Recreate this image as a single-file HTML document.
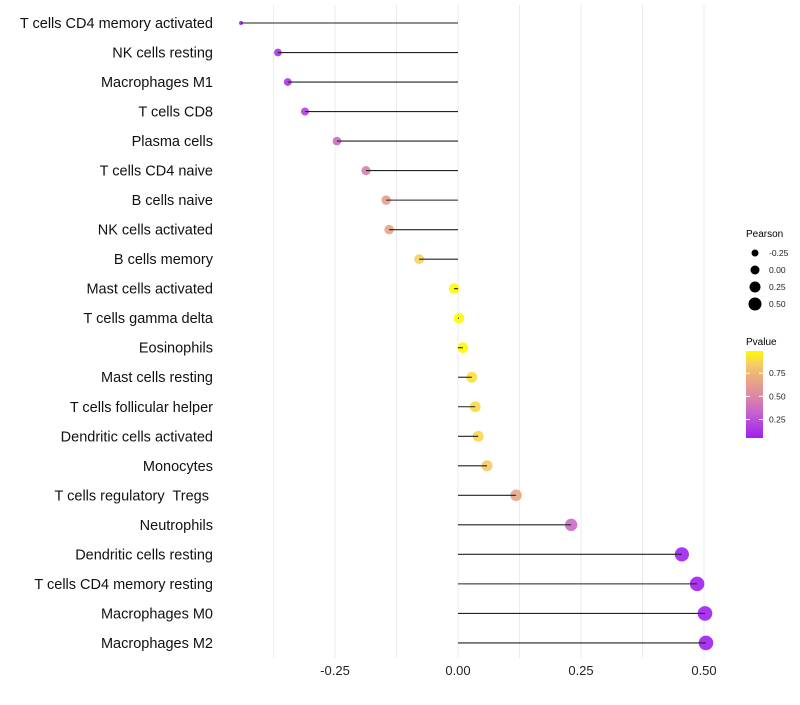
<!DOCTYPE html>
<html><head><meta charset="utf-8"><style>
body{margin:0;background:#fff;}
svg text{font-family:"Liberation Sans",sans-serif;white-space:pre;}
</style></head><body>
<svg id="chart" width="800" height="700" xmlns="http://www.w3.org/2000/svg">
<defs><linearGradient id="pg" x1="0" y1="1" x2="0" y2="0">
<stop offset="0" stop-color="rgb(160,32,240)"/><stop offset="0.3" stop-color="rgb(200,100,205)"/><stop offset="0.5" stop-color="rgb(220,140,160)"/><stop offset="0.7" stop-color="rgb(236,172,128)"/><stop offset="0.85" stop-color="rgb(246,205,100)"/><stop offset="1" stop-color="rgb(255,250,0)"/>
</linearGradient></defs>
<g id="grid"></g>
<g id="pts"></g>
<g id="marks"></g>
<g id="ylabels"></g>
<g id="xlabels"></g>
<g id="sizeleg">
<text x="746" y="237" font-size="10">Pearson</text>
</g>
<g>
<text x="746" y="345" font-size="10">Pvalue</text>
<rect x="746" y="351" width="17" height="87" fill="url(#pg)"/>
<g id="cticks"></g>
</g>
</svg>
<script>
const categories=["T cells CD4 memory activated","NK cells resting","Macrophages M1","T cells CD8","Plasma cells","T cells CD4 naive","B cells naive","NK cells activated","B cells memory","Mast cells activated","T cells gamma delta","Eosinophils","Mast cells resting","T cells follicular helper","Dendritic cells activated","Monocytes","T cells regulatory  Tregs ","Neutrophils","Dendritic cells resting","T cells CD4 memory resting","Macrophages M0","Macrophages M2"];
const pearson=[-0.441,-0.366,-0.346,-0.311,-0.246,-0.187,-0.146,-0.140,-0.079,-0.008,0.002,0.010,0.028,0.035,0.041,0.059,0.118,0.230,0.455,0.486,0.502,0.504];
const pvalue=[0.0,0.1,0.12,0.17,0.35,0.45,0.62,0.64,0.85,0.99,0.99,0.97,0.9,0.88,0.87,0.83,0.66,0.35,0.04,0.02,0.02,0.02];
const xTicks=[-0.25,0,0.25,0.5];
const xTickLabels=["-0.25","0.00","0.25","0.50"];
const sizeLegendValues=[-0.25,0,0.25,0.5];
const colorTicks=[0.25,0.5,0.75];
const NS="http://www.w3.org/2000/svg";
const xs=v=>458+v*492;
const ys=i=>23+i*29.52;
const rs=v=>v<-0.4?2:Math.max(2,5.3+4*v);
const stops=[[0,[160,32,240]],[0.3,[200,100,205]],[0.5,[220,140,160]],[0.7,[236,172,128]],[0.85,[246,205,100]],[1,[255,250,0]]];
function col(p){const t=Math.max(0,Math.min(1,(p-0.03)/0.95));
 for(let k=0;k<stops.length-1;k++){const [t0,a]=stops[k],[t1,b]=stops[k+1];
  if(t<=t1){const u=(t-t0)/(t1-t0);return `rgb(${a.map((x,j)=>Math.round(x+(b[j]-x)*u)).join(",")})`;}}
 return "rgb(255,250,0)";}
function mk(t,at,parent){const e=document.createElementNS(NS,t);for(const k in at)e.setAttribute(k,at[k]);parent.appendChild(e);return e;}
const grid=document.getElementById("grid"),marks=document.getElementById("marks"),pts=document.getElementById("pts"),yl=document.getElementById("ylabels"),xl=document.getElementById("xlabels");
for(let v=-0.375;v<=0.51;v+=0.125){const l=mk("line",{x1:xs(v),x2:xs(v),y1:5,y2:658,stroke:"#ebebeb","stroke-width":1},grid);

}
xTicks.forEach((v,i)=>{const t=mk("text",{x:xs(v),y:675,"font-size":13,"text-anchor":"middle",fill:"#222"},xl);t.textContent=xTickLabels[i];

});
categories.forEach((c,i)=>{const y=ys(i);
 const t=mk("text",{x:213,y:y+5,"font-size":14.5,"text-anchor":"end",fill:"#111"},yl);t.textContent=c;
 
 
 const ci=mk("circle",{cx:xs(pearson[i]),cy:y,r:rs(pearson[i]),fill:col(pvalue[i]),"fill-opacity":0.9},pts);
 
 
 const ln=mk("line",{x1:xs(0),x2:xs(pearson[i]),y1:y,y2:y,stroke:"#222","stroke-width":1.1},marks);
 
 
});
const sl=document.getElementById("sizeleg");
sizeLegendValues.forEach((v,i)=>{const y=253+i*17;
 const c=mk("circle",{cx:755,cy:y,r:[3.5,4.5,5.5,6.5][i],fill:"#000"},sl);
 
 
 const t=mk("text",{x:769,y:y+3,"font-size":8.5,fill:"#222"},sl);t.textContent=v.toFixed(2);
 
 });
const ct=document.getElementById("cticks");
colorTicks.forEach(v=>{const y=438-(v-0.05)/0.94*87;
 mk("line",{x1:746,x2:750,y1:y,y2:y,stroke:"#fff","stroke-width":1},ct);
 mk("line",{x1:759,x2:763,y1:y,y2:y,stroke:"#fff","stroke-width":1},ct);
 const t=mk("text",{x:769,y:y+3,"font-size":8.5,fill:"#222"},ct);t.textContent=v.toFixed(2);
 
 });
</script>
</body></html>
